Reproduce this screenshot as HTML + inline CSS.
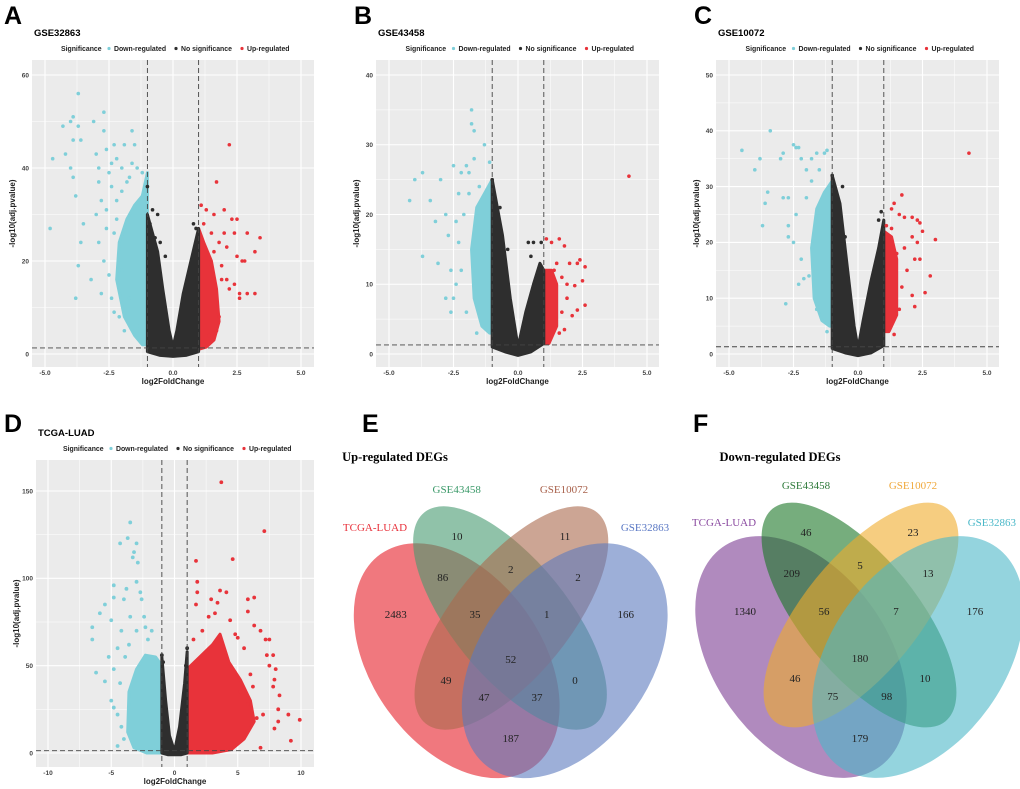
<!DOCTYPE html>
<html><head><meta charset="utf-8"><style>
body{margin:0;background:#fff;}
svg{display:block;font-family:"Liberation Sans",Arial,sans-serif;}
.lt{font-weight:bold;font-size:25px;}
.vt{font-family:"Liberation Serif",serif;}
</style></head><body>
<svg id="fig" width="1020" height="789" viewBox="0 0 1020 789">
<rect width="1020" height="789" fill="#fff"/>
<g>
<text class="lt" x="362" y="432">E</text>
<text class="vt" x="395" y="461" font-size="12.5" font-weight="bold" text-anchor="middle">Up-regulated DEGs</text>
<ellipse cx="456.7" cy="660.7" rx="131" ry="85" transform="rotate(54.4 456.7 660.7)" fill="rgb(230,30,40)" fill-opacity="0.6"/>
<ellipse cx="510" cy="618" rx="136" ry="58" transform="rotate(50.9 510 618)" fill="rgb(70,153,112)" fill-opacity="0.6"/>
<ellipse cx="511.4" cy="618" rx="136" ry="58" transform="rotate(-50.9 511.4 618)" fill="rgb(170,105,77)" fill-opacity="0.6"/>
<ellipse cx="564.7" cy="660.7" rx="131" ry="85" transform="rotate(-54.4 564.7 660.7)" fill="rgb(91,121,190)" fill-opacity="0.6"/>
<g class="vt" font-size="11" text-anchor="middle">
<text x="456.7" y="493" fill="#3c9a6a">GSE43458</text>
<text x="564" y="493" fill="#a8604a">GSE10072</text>
<text x="375" y="531" fill="#e8303a">TCGA-LUAD</text>
<text x="645" y="531" fill="#5a78c4">GSE32863</text>
</g>
<g class="vt" font-size="11" text-anchor="middle" fill="#222">
<text x="457" y="540">10</text><text x="565" y="540">11</text><text x="510.7" y="573">2</text>
<text x="442.7" y="581">86</text><text x="578" y="581">2</text><text x="395.7" y="618">2483</text>
<text x="475" y="618">35</text><text x="546.7" y="618">1</text><text x="625.7" y="618">166</text>
<text x="510.7" y="663">52</text><text x="446" y="684">49</text><text x="575" y="684">0</text>
<text x="484" y="701">47</text><text x="537" y="701">37</text><text x="510.7" y="742">187</text>
</g>
</g>
<g>
<text class="lt" x="693" y="432">F</text>
<text class="vt" x="780" y="461" font-size="12.5" font-weight="bold" text-anchor="middle">Down-regulated DEGs</text>
<ellipse cx="801" cy="657" rx="135" ry="87" transform="rotate(54.4 801 657)" fill="rgb(123,60,147)" fill-opacity="0.6"/>
<ellipse cx="859" cy="615" rx="137" ry="58" transform="rotate(50.9 859 615)" fill="rgb(27,118,38)" fill-opacity="0.6"/>
<ellipse cx="861" cy="615" rx="137" ry="58" transform="rotate(-50.9 861 615)" fill="rgb(240,172,43)" fill-opacity="0.6"/>
<ellipse cx="918" cy="657" rx="135" ry="87" transform="rotate(-54.4 918 657)" fill="rgb(77,183,200)" fill-opacity="0.6"/>
<g class="vt" font-size="11" text-anchor="middle">
<text x="806" y="489" fill="#2e7a3a">GSE43458</text>
<text x="913" y="489" fill="#f0a83a">GSE10072</text>
<text x="724" y="526" fill="#8a4aa0">TCGA-LUAD</text>
<text x="1016" y="526" text-anchor="end" fill="#4ab8c8">GSE32863</text>
</g>
<g class="vt" font-size="11" text-anchor="middle" fill="#222">
<text x="806" y="536">46</text><text x="913" y="536">23</text><text x="791.7" y="577">209</text>
<text x="860" y="569">5</text><text x="928" y="577">13</text><text x="745" y="615">1340</text>
<text x="824" y="615">56</text><text x="896" y="615">7</text><text x="975" y="615">176</text>
<text x="860" y="662">180</text><text x="795" y="682">46</text><text x="925" y="682">10</text>
<text x="832.7" y="700">75</text><text x="886.7" y="700">98</text><text x="860" y="742">179</text>
</g>
</g>
</svg>
<script>
// ---------- Panel A data (GSE32863) ----------
const aDownX=[-4.8,-4.7,-4.3,-4.2,-4,-3.9,-3.9,-3.7,-3.7,-3.6,-3.8,-3.8,-3.7,-3.6,-3.5,-3.2,-3.1,-3.0,-2.9,-2.8,-2.8,-2.7,-2.7,-2.6,-2.5,-2.4,-2.3,-2.2,-2,-1.9,-1.6,-1.5,-1.2,-3,-2.9,-2.7,-2.5,-2.4,-2.3,-2.1,-1.9,-2.6,-2.2,-1.7,-2.9,-4.0,-3.9,-2.6,-2.4,-2.2,-2.0,-1.8,-1.6,-1.4,-2.3,-2.0,-1.7,-1.3];
const aDownY=[27,42,49,43,50,51,46,56,49,46,34,12,19,24,28,16,50,43,37,33,13,52,48,44,39,41,45,42,40,45,48,45,39,30,24,20,17,12,9,8,5,27,33,38,40,40,38,31,36,29,35,37,41,40,26,18,12,6];
const aUpX=[2.2,1.7,1.3,1.6,2.0,2.3,2.5,2.4,2.9,3.4,3.2,2.5,2.7,2.8,2.1,2.4,2.6,2.9,3.2,2.6,2.2,1.9,1.8,2.1,1.5,1.2,1.1,1.8,1.7,1.4,1.6,1.9,2.0,1.5];
const aUpY=[45,37,31,30,31,29,29,26,26,25,22,21,20,20,16,15,13,13,13,12,14,19,24,23,26,28,32,8,5,4,22,16,26,19];
const aNsX=[-1,-0.8,-0.6,-0.7,0.8,0.9,-0.3,-0.9,-0.5];
const aNsY=[36,31,30,25,28,27,21,28,24];
const aNsCoreX=[-1,-1,-0.8,-0.6,-0.4,-0.15,0,0.15,0.4,0.7,1,1,0.5,0,-0.5];
const aNsCoreY=[0.5,30,26,22,14,5,1.5,5,13,20,27,0.5,-0.3,-0.5,-0.3];
const aDownCoreX=[-1,-1,-1.2,-1.5,-1.8,-2.1,-2.2,-1.9,-1.5,-1.2];
const aDownCoreY=[2,39,34,32,29,24,16,8,4,2];
const aUpCoreX=[1,1,1.2,1.5,1.7,1.8,1.6,1.3];
const aUpCoreY=[1,27,24,20,14,7,3,1.5];
// ---------- Panel B data (GSE43458) ----------
const bDownX=[-4.2,-4,-3.7,-3.7,-3.4,-3.2,-3.1,-3.0,-2.8,-2.8,-2.7,-2.6,-2.5,-2.6,-2.5,-2.4,-2.3,-2.2,-2.0,-1.9,-1.8,-1.8,-1.7,-1.7,-1.3,-1.1,-2.2,-2.0,-1.6,-2.3,-2.1,-1.9,-1.5,-2.4];
const bDownY=[22,25,26,14,22,19,13,25,20,8,17,12,8,6,27,19,23,26,27,26,35,33,32,28,30,27.5,12,6,3,16,20,23,24,10];
const bUpX=[4.3,2.6,2.4,2.3,1.8,1.6,1.3,1.1,2.0,2.2,2.5,2.6,2.3,2.1,1.9,1.7,1.8,1.6,1.2,1.5,1.7,1.4,1.9];
const bUpY=[25.5,12.5,13.5,13,15.5,16.5,16,16.5,13,9.8,10.5,7,6.3,5.5,8,11,3.5,3,2,13,6,12,10];
const bNsX=[-1,-0.7,-0.4,0.4,0.6,0.5,0.9,-0.9];
const bNsY=[25,21,15,16,16,14,16,22];
const bNsCoreX=[-1,-1,-0.8,-0.6,-0.3,0,0.3,0.6,0.85,1,1,0.5,0,-0.5];
const bNsCoreY=[1,25,21,17,8,1,6,10,13,12,1.5,0.3,-0.2,0.3];
const bDownCoreX=[-1,-1,-1.3,-1.6,-1.8,-1.7,-1.4,-1.1];
const bDownCoreY=[3,25,23,21,15,8,4,3];
const bUpCoreX=[1,1,1.3,1.5,1.5,1.2];
const bUpCoreY=[1.5,12,12,10,4,1.5];
// ---------- Panel C data (GSE10072) ----------
const cDownX=[-4.5,-4.0,-3.8,-3.6,-3.5,-3.7,-3.4,-3.0,-2.9,-2.9,-2.7,-2.7,-2.7,-2.8,-2.5,-2.4,-2.3,-2.2,-2.0,-1.8,-1.6,-1.3,-1.2,-2.3,-2.1,-1.9,-1.6,-1.4,-2.5,-2.2,-1.2,-2.0,-1.8,-1.5,-2.4];
const cDownY=[36.5,33,35,27,29,23,40,35,36,28,28,23,21,9,37.5,37,37,35,33,35,36,36,36.5,12.5,13.5,14,8,7,20,17,4,28,31,33,25];
const cUpX=[4.3,1.7,1.4,1.3,1.6,1.8,2.1,2.3,2.4,2.5,2.1,3.0,2.3,2.2,2.4,2.8,2.6,2.1,2.2,1.6,1.7,1.9,1.4,1.1,1.3,1.5,1.8];
const cUpY=[36,28.5,27,26,25,24.5,24.5,24,23.5,22,21,20.5,20,17,17,14,11,10.5,8.5,8,12,15,3.5,23,22.5,18,19];
const cNsX=[-1,-0.9,-0.6,-0.7,-0.5,0.9,0.8,-0.9];
const cNsY=[32,30,30,25,21,25.5,24,2];
const cNsCoreX=[-1,-1,-0.7,-0.4,-0.15,0,0.2,0.5,0.8,1,1,0.5,0,-0.5];
const cNsCoreY=[1,32,27,15,5,1,6,13,19,24,1.5,0.2,-0.3,0.2];
const cDownCoreX=[-1,-1,-1.3,-1.6,-1.8,-1.7,-1.4,-1.1];
const cDownCoreY=[5,31,29,26,19,10,6,5];
const cUpCoreX=[1,1,1.3,1.5,1.5,1.2];
const cUpCoreY=[4,22,21,17,7,4];
// ---------- Panel D data (TCGA-LUAD) ----------
const dDownX=[-6.5,-6.5,-6.2,-5.9,-5.5,-5.5,-5.0,-4.8,-4.8,-4.3,-3.8,-3.7,-3.5,-3.3,-3.2,-3.0,-2.9,-3.0,-2.7,-2.6,-2.4,-2.3,-2.1,-4.0,-3.5,-4.2,-4.5,-5.2,-4.8,-5.0,-4.8,-4.5,-4.2,-4.5,-4.0,-3.0,-1.8,-4.3,-3.9,-3.6];
const dDownY=[72,65,46,80,85,41,76,96,89,120,94,123,132,112,115,120,109,98,92,88,78,72,65,88,78,70,60,55,48,30,26,22,15,4,8,70,70,40,55,62];
const dUpX=[3.7,7.1,4.6,1.7,1.8,1.8,1.7,2.9,3.6,4.1,3.4,5.8,6.3,5.8,6.3,6.8,7.2,7.5,7.3,7.8,7.5,8,7.9,8.3,7.8,8.2,9.0,9.9,9.2,8.2,7.9,6.8,6.5,6.0,5.5,5,4.4,4.8,2.2,2.7,1.5,3.2,5.2,5.8,6.2,7.0];
const dUpY=[155,127,111,110,98,92,85,88,93,92,86,88,89,81,73,70,65,65,56,56,50,48,42,33,38,25,22,19,7,18,14,3,20,45,60,66,76,68,70,78,65,80,35,28,38,22];
const dNsX=[-1,-0.9,1,0.9];
const dNsY=[56,52,60,50];
const dNsCoreX=[-1,-1,-0.7,-0.4,0,0.4,0.8,1,1,0.5,-0.5];
const dNsCoreY=[0,55,30,10,1,15,40,58,0,-1,-1];
const dDownCoreX=[-1,-1,-1.5,-2.3,-3.0,-3.6,-3.7,-3.2,-2.2];
const dDownCoreY=[0,50,55,56,48,35,12,3,0];
const dUpCoreX=[1,1,2,3,3.6,4.3,5.2,6.0,6.3,5.5,4.5,3];
const dUpCoreY=[0,48,55,62,68,52,42,30,18,8,2,0];

const NS='http://www.w3.org/2000/svg';
const svg=document.getElementById('fig');
function mk(tag,attrs,parent){const e=document.createElementNS(NS,tag);for(const k in attrs)e.setAttribute(k,attrs[k]);(parent||svg).appendChild(e);return e;}
const CY='#7fcfd9',BK='#2e2e2e',RD='#e8333a';

function volcano(o){
  const g=mk('g',{});
  
  
  const sx=v=>o.x0px+(v-o.x0)*(o.x1px-o.x0px)/(o.x1-o.x0);
  const sy=v=>o.y0px+(v-o.y0)*(o.y1px-o.y0px)/(o.y1-o.y0);
  const L=mk('text',{x:o.lx,y:o.ly,class:'lt'},g);L.textContent=o.letter;
  
  
  const T=mk('text',{x:o.px0+2,y:o.ty,'font-size':9.5,'font-weight':'bold'},g);T.textContent=o.title;
  
  
  const lg=mk('g',{'font-size':6.9,'font-weight':'bold',fill:'#222'},g);
  
  
  const cx=(o.px0+o.px1)/2-112, ly=o.ty+15;
  const items=[['Significance',null,0],['Down-regulated',CY,53],['No significance',BK,120],['Up-regulated',RD,186]];
  items.forEach(it=>{
    if(it[1]){const d=mk('circle',{cx:cx+it[2]-5,cy:ly-2.5,r:1.6,fill:it[1]},lg);
      
      }
    const t=mk('text',{x:cx+it[2],y:ly},lg);t.textContent=it[0];
    
    
  });
  const bg=mk('rect',{x:o.px0,y:o.py0,width:o.px1-o.px0,height:o.py1-o.py0,fill:'#ebebeb'},g);
  
  
  for(let i=0;i<o.xt.length;i++){
    const v=o.xt[i];
    mk('line',{x1:sx(v),x2:sx(v),y1:o.py0,y2:o.py1,stroke:'#fff','stroke-width':1.1},g);
    if(i<o.xt.length-1){const m=(v+o.xt[i+1])/2;mk('line',{x1:sx(m),x2:sx(m),y1:o.py0,y2:o.py1,stroke:'#fff','stroke-width':0.5},g);}
    const t=mk('text',{x:sx(v),y:o.py1+8,'font-size':6.5,'text-anchor':'middle','font-weight':'bold',fill:'#444'},g);
    t.textContent=o.xl[i];
    
    
  }
  for(let i=0;i<o.yt.length;i++){
    const v=o.yt[i];
    mk('line',{y1:sy(v),y2:sy(v),x1:o.px0,x2:o.px1,stroke:'#fff','stroke-width':1.1},g);
    const m=v+(o.yt[1]-o.yt[0])/2;
    if(sy(m)>o.py0) mk('line',{y1:sy(m),y2:sy(m),x1:o.px0,x2:o.px1,stroke:'#fff','stroke-width':0.5},g);
    const t=mk('text',{x:o.px0-3,y:sy(v)+2.3,'font-size':6.5,'text-anchor':'end','font-weight':'bold',fill:'#444'},g);
    t.textContent=o.yt[i];
    
    
  }
  const poly=(xs,ys,c,n)=>{const p=mk('polygon',{points:xs.map((x,i)=>sx(x)+','+sy(ys[i])).join(' '),fill:c,stroke:c,'stroke-width':3,'stroke-linejoin':'round'},g);
    
    };
  poly(o.dcx,o.dcy,CY,'down-regulated-dense');
  poly(o.ucx,o.ucy,RD,'up-regulated-dense');
  poly(o.ncx,o.ncy,BK,'no-significance-dense');
  const pts=(xs,ys,c,n)=>xs.forEach((x,i)=>{const p=mk('circle',{cx:sx(x),cy:sy(ys[i]),r:o.r,fill:c},g);
    
    });
  pts(o.dx,o.dy,CY,'down-regulated-point');
  pts(o.ux,o.uy,RD,'up-regulated-point');
  pts(o.nx,o.ny,BK,'no-significance-point');
  [-1,1].forEach(v=>mk('line',{x1:sx(v),x2:sx(v),y1:o.py0,y2:o.py1,stroke:'#444','stroke-width':0.9,'stroke-dasharray':'5,3'},g));
  mk('line',{x1:o.px0,x2:o.px1,y1:sy(1.3),y2:sy(1.3),stroke:'#444','stroke-width':0.9,'stroke-dasharray':'5,3'},g);
  const xt=mk('text',{x:(o.px0+o.px1)/2,y:o.py1+17,'font-size':8,'font-weight':'bold','text-anchor':'middle',fill:'#222'},g);xt.textContent='log2FoldChange';
  
  
  const yy=(o.py0+o.py1)/2, xx=o.px0-17;
  const ytt=mk('text',{x:xx,y:yy,'font-size':8,'font-weight':'bold','text-anchor':'middle',fill:'#222',transform:`rotate(-90 ${xx} ${yy})`},g);ytt.textContent='-log10(adj.pvalue)';
  
  
}
const xt5=[-5,-2.5,0,2.5,5], xl5=['-5.0','-2.5','0.0','2.5','5.0'];
volcano({id:'a',letter:'A',title:'GSE32863',lx:4,ly:24,ty:36,px0:32,px1:314,py0:60,py1:367,x0:-5,x1:5,x0px:45,x1px:301,y0:0,y1:60,y0px:354,y1px:75,xt:xt5,xl:xl5,yt:[0,20,40,60],r:1.8,
 dx:aDownX,dy:aDownY,ux:aUpX,uy:aUpY,nx:aNsX,ny:aNsY,ncx:aNsCoreX,ncy:aNsCoreY,dcx:aDownCoreX,dcy:aDownCoreY,ucx:aUpCoreX,ucy:aUpCoreY});
volcano({id:'b',letter:'B',title:'GSE43458',lx:354,ly:24,ty:36,px0:376,px1:659,py0:60,py1:367,x0:-5,x1:5,x0px:389,x1px:647,y0:0,y1:40,y0px:354,y1px:75,xt:xt5,xl:xl5,yt:[0,10,20,30,40],r:1.8,
 dx:bDownX,dy:bDownY,ux:bUpX,uy:bUpY,nx:bNsX,ny:bNsY,ncx:bNsCoreX,ncy:bNsCoreY,dcx:bDownCoreX,dcy:bDownCoreY,ucx:bUpCoreX,ucy:bUpCoreY});
volcano({id:'c',letter:'C',title:'GSE10072',lx:694,ly:24,ty:36,px0:716,px1:999,py0:60,py1:367,x0:-5,x1:5,x0px:729,x1px:987,y0:0,y1:50,y0px:354,y1px:75,xt:xt5,xl:xl5,yt:[0,10,20,30,40,50],r:1.8,
 dx:cDownX,dy:cDownY,ux:cUpX,uy:cUpY,nx:cNsX,ny:cNsY,ncx:cNsCoreX,ncy:cNsCoreY,dcx:cDownCoreX,dcy:cDownCoreY,ucx:cUpCoreX,ucy:cUpCoreY});
volcano({id:'d',letter:'D',title:'TCGA-LUAD',lx:4,ly:432,ty:436,px0:36,px1:314,py0:460,py1:767,x0:-10,x1:10,x0px:48,x1px:301,y0:0,y1:150,y0px:753,y1px:491,xt:[-10,-5,0,5,10],xl:['-10','-5','0','5','10'],yt:[0,50,100,150],r:1.9,
 dx:dDownX,dy:dDownY,ux:dUpX,uy:dUpY,nx:dNsX,ny:dNsY,ncx:dNsCoreX,ncy:dNsCoreY,dcx:dDownCoreX,dcy:dDownCoreY,ucx:dUpCoreX,ucy:dUpCoreY});
</script>
</body></html>
